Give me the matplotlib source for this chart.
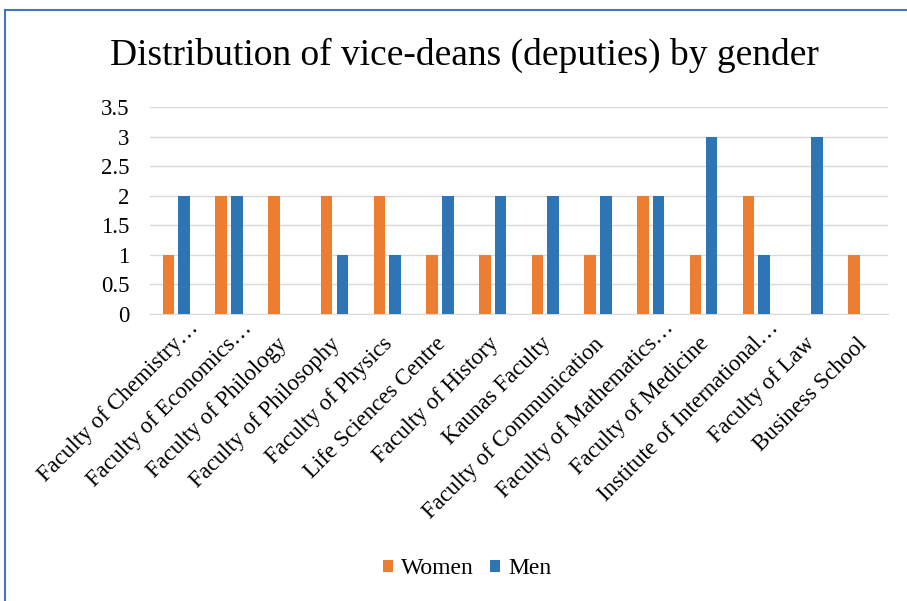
import numpy as np
import matplotlib
matplotlib.use("Agg")
import matplotlib.pyplot as plt
from matplotlib.lines import Line2D
from matplotlib.transforms import ScaledTranslation

matplotlib.rcParams.update({'font.family': ['Liberation Serif', 'DejaVu Serif']})

faculties = ["Faculty of Chemistry\u2026", "Faculty of Economics\u2026", "Faculty of Philology",
             "Faculty of Philosophy", "Faculty of Physics", "Life Sciences Centre",
             "Faculty of History", "Kaunas Faculty", "Faculty of Communication",
             "Faculty of Mathematics\u2026", "Faculty of Medicine", "Institute of International\u2026",
             "Faculty of Law", "Business School"]
women = [1, 2, 2, 2, 2, 1, 1, 1, 1, 2, 1, 2, 0, 1]
men = [2, 2, 0, 1, 1, 2, 2, 2, 2, 2, 3, 1, 3, 0]

fig = plt.figure(figsize=(9.07, 6.01), dpi=100)
ax = fig.add_axes([150/907, 1 - 314/601, 738/907, 207/601])

x = np.arange(len(faculties))
w = 0.22
ax.bar(x - 0.15, women, w, color='#ED7D31', label='Women', zorder=3)
ax.bar(x + 0.15, men, w, color='#2E75B6', label='Men', zorder=3)

ax.set_xlim(-0.5, len(faculties) - 0.5)
ax.set_ylim(0, 3.5)
ax.set_yticks(np.arange(0, 3.51, 0.5))
ax.set_yticklabels(['0', '0.5', '1', '1.5', '2', '2.5', '3', '3.5'])
ax.yaxis.grid(True, color='#D9D9D9', linewidth=1, zorder=0)
for s in ['top', 'right', 'left']:
    ax.spines[s].set_visible(False)
ax.spines['bottom'].set_color('#D9D9D9')
ax.tick_params(axis='both', length=0, labelsize=16.5, colors='black')
ax.tick_params(axis='y', pad=15)
ax.set_xticks(x)
ax.set_xticklabels(faculties, rotation=45, ha='right', rotation_mode='anchor')
ax.tick_params(axis='x', pad=14)
# truncated (…) labels sit a bit further up-right, like the original
for lab in ax.get_xticklabels():
    if lab.get_text().endswith("\u2026"):
        shift = ScaledTranslation(12/100, 16/100, fig.dpi_scale_trans)
    else:
        shift = ScaledTranslation(-5/100, 0, fig.dpi_scale_trans)
    lab.set_transform(lab.get_transform() + shift)

fig.text(464/907, 1 - 55/601, "Distribution of vice-deans (deputies) by gender",
         ha='center', va='center', fontsize=27)

leg = fig.legend(loc='center', bbox_to_anchor=(467/907, 1 - 569/601), ncol=2, frameon=False,
                 fontsize=17, handlelength=0.42, handleheight=0.42, columnspacing=0.7, handletextpad=0.35)

# blue frame around the chart area
fig.add_artist(Line2D([5/907, 5/907], [0, 1 - 10/601], color='#4472C4', linewidth=1.5))
fig.add_artist(Line2D([5/907, 1], [1 - 10/601, 1 - 10/601], color='#4472C4', linewidth=1.5))

fig.savefig("out.png", dpi=100, facecolor='white')
